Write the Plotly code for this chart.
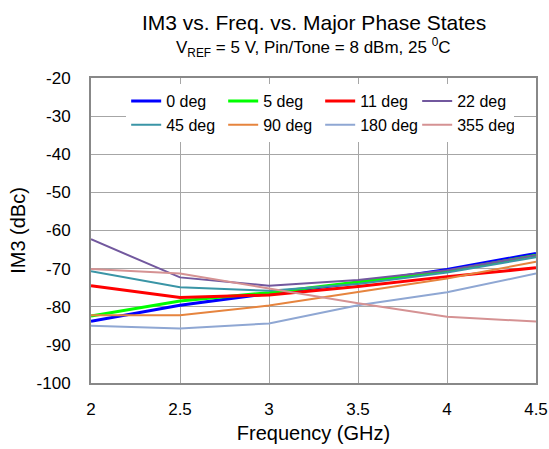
import plotly.graph_objects as go

FREQ = [2.0, 2.5, 3.0, 3.5, 4.0, 4.5]
FREQ_TICKS = ["2", "2.5", "3", "3.5", "4", "4.5"]
IM3_TICKVALS = [-100, -90, -80, -70, -60, -50, -40, -30, -20]
IM3_TICKS = ["-100", "-90", "-80", "-70", "-60", "-50", "-40", "-30", "-20"]

IM3_0 = [-83.8, -79.6, -76.5, -73.7, -70.2, -66.0]
IM3_5 = [-82.4, -78.5, -76.3, -73.5, -70.7, -66.5]
IM3_11 = [-74.5, -77.6, -76.9, -74.7, -72.1, -69.8]
IM3_22 = [-62.3, -72.3, -74.5, -73.0, -70.4, -66.5]
IM3_45 = [-70.7, -74.9, -75.8, -74.0, -71.0, -67.0]
IM3_90 = [-82.2, -82.2, -79.7, -76.1, -72.6, -68.2]
IM3_180 = [-85.0, -85.7, -84.4, -79.6, -76.2, -71.3]
IM3_355 = [-70.1, -71.3, -75.2, -79.1, -82.6, -83.9]

SERIES = [
    ("0 deg", IM3_0, "#0000FF", 3),
    ("5 deg", IM3_5, "#00FF00", 3),
    ("11 deg", IM3_11, "#FF0000", 3),
    ("22 deg", IM3_22, "#72589E", 2),
    ("45 deg", IM3_45, "#3A95A6", 2),
    ("90 deg", IM3_90, "#E6843E", 2),
    ("180 deg", IM3_180, "#8FA7D3", 2),
    ("355 deg", IM3_355, "#D59293", 2),
]

fig = go.Figure()

for name, vals, color, width in SERIES:
    fig.add_trace(
        go.Scatter(
            x=FREQ,
            y=vals,
            mode="lines",
            name=name,
            line=dict(color=color, width=width)
        )
    )

# titulo y subtitulo como anotaciones
fig.add_annotation(
    text="IM3 vs. Freq. vs. Major Phase States",
    xref="paper", yref="paper",
    x=0.5, y=1.0, yshift=56,
    xanchor="center", yanchor="middle",
    showarrow=False,
    font=dict(size=21)
)
fig.add_annotation(
    text="V<sub>REF</sub> = 5 V, Pin/Tone = 8 dBm, 25 <sup>0</sup>C",
    xref="paper", yref="paper",
    x=0.5, y=1.0, yshift=31,
    xanchor="center", yanchor="middle",
    showarrow=False,
    font=dict(size=17)
)

fig.update_layout(
    width=549,
    height=449,
    margin=dict(l=91, r=13, t=78, b=66),
    paper_bgcolor="white",
    plot_bgcolor="white",
    font=dict(family="Liberation Sans, Arial, sans-serif", color="#000000", size=17),
    legend=dict(
        orientation="h",
        x=0.515,
        xanchor="center",
        y=0.98,
        yanchor="top",
        bgcolor="white",
        entrywidth=52,
        font=dict(size=16),
        itemwidth=30,
        tracegroupgap=0
    ),
    showlegend=True
)

fig.update_xaxes(
    range=[2, 4.5],
    tickvals=FREQ,
    ticktext=FREQ_TICKS,
    showgrid=True,
    gridcolor="#A6A6A6",
    gridwidth=1,
    showline=True,
    linecolor="#888888",
    linewidth=2,
    mirror=True,
    zeroline=False,
    ticks="",
    ticklabelstandoff=10,
    automargin=False,
    title=dict(text="Frequency (GHz)", standoff=8)
)

fig.update_yaxes(
    range=[-100, -20],
    tickvals=IM3_TICKVALS,
    ticktext=IM3_TICKS,
    showgrid=True,
    gridcolor="#A6A6A6",
    gridwidth=1,
    showline=True,
    linecolor="#888888",
    linewidth=2,
    mirror=True,
    zeroline=False,
    ticks="",
    ticklabelstandoff=15,
    automargin=False,
    title=dict(text="IM3 (dBc)", standoff=6)
)

fig.write_html(
    "out.html",
    config={"displayModeBar": False},
    post_script="document.body.style.margin = '0';"
)
